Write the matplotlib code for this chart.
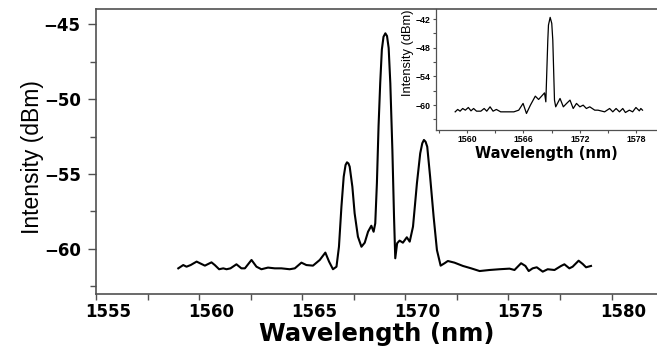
import matplotlib
matplotlib.use("Agg")
import matplotlib.pyplot as plt
import matplotlib.transforms as mtransforms
from matplotlib.ticker import MultipleLocator

# main spectrum
wl_main = [1558.99, 1559.23, 1559.39, 1559.59, 1559.88, 1560.04, 1560.28, 1560.60, 1560.76, 1560.97,
           1561.17, 1561.33, 1561.52, 1561.81, 1562.05, 1562.22, 1562.54, 1562.78, 1563.02, 1563.34,
           1563.67, 1563.99, 1564.39, 1564.64, 1564.96, 1565.20, 1565.52, 1565.85, 1566.12, 1566.30,
           1566.49, 1566.66, 1566.78, 1566.90, 1567.01, 1567.10, 1567.17, 1567.24, 1567.30, 1567.43,
           1567.54, 1567.70, 1567.87, 1568.03, 1568.19, 1568.35, 1568.46, 1568.54, 1568.62, 1568.70,
           1568.78, 1568.86, 1568.94, 1569.03, 1569.11, 1569.19, 1569.27, 1569.37, 1569.45, 1569.51,
           1569.60, 1569.72, 1569.88, 1570.07, 1570.21, 1570.37, 1570.47, 1570.56, 1570.72, 1570.82,
           1570.90, 1570.98, 1571.06, 1571.20, 1571.37, 1571.53, 1571.71, 1571.90, 1572.06, 1572.38,
           1572.79, 1573.19, 1573.60, 1574.08, 1574.56, 1575.05, 1575.29, 1575.61, 1575.82, 1575.98,
           1576.17, 1576.37, 1576.66, 1576.90, 1577.23, 1577.55, 1577.71, 1577.95, 1578.11, 1578.40,
           1578.60, 1578.76, 1579.00]
db_main = [-61.29, -61.07, -61.18, -61.07, -60.84, -60.95, -61.11, -60.89, -61.07, -61.35,
           -61.29, -61.35, -61.29, -61.02, -61.29, -61.29, -60.73, -61.18, -61.35, -61.24,
           -61.29, -61.29, -61.35, -61.29, -60.91, -61.07, -61.11, -60.73, -60.24, -60.84,
           -61.35, -61.18, -59.85, -57.18, -55.18, -54.40, -54.22, -54.30, -54.51, -55.85,
           -57.62, -59.18, -59.85, -59.58, -58.85, -58.45, -58.85, -58.29, -55.60, -51.80,
           -48.95, -46.70, -45.85, -45.62, -45.80, -46.60, -48.95, -53.40, -57.85, -60.62,
           -59.62, -59.44, -59.58, -59.22, -59.51, -58.51, -57.00, -55.62, -53.62, -52.95,
           -52.73, -52.85, -53.18, -55.18, -57.85, -60.07, -61.11, -60.95, -60.80, -60.91,
           -61.13, -61.29, -61.47, -61.40, -61.35, -61.31, -61.40, -60.95, -61.13, -61.47,
           -61.29, -61.22, -61.51, -61.35, -61.40, -61.13, -61.02, -61.29, -61.18, -60.78,
           -61.00, -61.22, -61.13]

# inset spectrum
wl_ins = [1558.74, 1559.01, 1559.26, 1559.54, 1559.82, 1560.14, 1560.42, 1560.70, 1561.01, 1561.47,
          1561.82, 1562.10, 1562.45, 1562.77, 1563.12, 1563.58, 1564.27, 1564.98, 1565.50, 1565.96,
          1566.32, 1566.74, 1567.26, 1567.61, 1568.03, 1568.24, 1568.38, 1568.59, 1568.66, 1568.84,
          1569.01, 1569.12, 1569.22, 1569.30, 1569.43, 1569.89, 1570.24, 1570.59, 1570.95, 1571.29,
          1571.64, 1572.00, 1572.35, 1572.69, 1573.05, 1573.58, 1573.93, 1574.63, 1575.16, 1575.50,
          1575.85, 1576.21, 1576.56, 1576.84, 1577.26, 1577.61, 1577.96, 1578.32, 1578.48, 1578.66]
db_ins = [-61.40, -60.90, -61.26, -60.70, -61.05, -60.49, -61.19, -60.70, -61.26, -61.26,
          -60.70, -61.26, -60.35, -61.26, -60.90, -61.40, -61.40, -61.40, -61.05, -59.64,
          -61.74, -60.00, -58.12, -58.81, -57.90, -57.43, -59.31, -46.40, -43.26, -41.65,
          -42.90, -46.40, -53.37, -58.95, -60.35, -58.60, -60.35, -59.64, -58.95, -60.70,
          -59.64, -60.35, -60.00, -60.70, -60.35, -61.05, -61.05, -61.40, -60.70, -61.40,
          -60.70, -61.40, -60.70, -61.54, -61.05, -61.40, -60.49, -61.19, -60.70, -61.05]

main_xticks = [1555, 1560, 1565, 1570, 1575, 1580]
main_yticks = [-45, -50, -55, -60]
ins_xticks = [1560, 1566, 1572, 1578]
ins_yticks = [-42, -48, -54, -60]

spine_col = "#505050"

fig = plt.figure(figsize=(6.57, 3.48), dpi=100)
ax = fig.add_axes([0.1461, 0.1552, 0.8539, 0.8189])
ax.plot(wl_main, db_main, color="black", lw=1.5)
ax.set_xlim(1555, 1582.2)
ax.set_ylim(-63, -44)
ax.set_xticks(main_xticks)
ax.set_yticks(main_yticks)
ax.xaxis.set_minor_locator(MultipleLocator(2.5))
ax.yaxis.set_minor_locator(MultipleLocator(2.5))
ax.spines["right"].set_visible(False)
for s in ["left", "bottom", "top"]:
    ax.spines[s].set_color(spine_col)
    ax.spines[s].set_linewidth(1.2)
ax.tick_params(which="both", direction="out", color=spine_col, width=1.0, top=False, right=False)
ax.tick_params(axis="y", which="major", length=6, pad=5)
ax.tick_params(axis="y", which="minor", length=4)
ax.tick_params(axis="x", which="both", length=4, pad=2.5)
for lab in ax.get_xticklabels() + ax.get_yticklabels():
    lab.set_fontfamily("DejaVu Sans")
    lab.set_fontweight("bold")
    lab.set_fontsize(12)
# x labels sit a bit right of their ticks in the original
shift = mtransforms.ScaledTranslation(0.12, 0, fig.dpi_scale_trans)
for lab in ax.get_xticklabels():
    lab.set_transform(lab.get_transform() + shift)

ax.set_xlabel("Wavelength (nm)", fontfamily="DejaVu Sans", fontweight="bold", fontsize=17.5)
ax.xaxis.set_label_coords(0.5, -0.1)
ax.set_ylabel("Intensity (dBm)", fontfamily="Liberation Sans", fontsize=16.5)
ax.yaxis.set_label_coords(-0.093, 0.48)

# inset
axi = fig.add_axes([0.6636, 0.6264, 0.3364, 0.3477])
axi.set_facecolor("none")
axi.plot(wl_ins, db_ins, color="black", lw=0.9)
axi.set_xlim(1556.7, 1580.2)
axi.set_ylim(-65.2, -39.9)
axi.set_xticks(ins_xticks)
axi.set_yticks(ins_yticks)
axi.xaxis.set_minor_locator(MultipleLocator(3))
axi.yaxis.set_minor_locator(MultipleLocator(3))
axi.spines["right"].set_visible(False)
axi.spines["top"].set_visible(False)
for s in ["left", "bottom"]:
    axi.spines[s].set_color(spine_col)
    axi.spines[s].set_linewidth(0.9)
axi.tick_params(which="both", direction="out", color=spine_col, width=0.8, length=2.5, pad=1.2)
for lab in axi.get_xticklabels() + axi.get_yticklabels():
    lab.set_fontfamily("Liberation Sans")
    lab.set_fontweight("bold")
    lab.set_fontsize(6.3)
axi.set_xlabel("Wavelength (nm)", fontfamily="DejaVu Sans", fontweight="bold", fontsize=10.5, labelpad=1)
axi.set_ylabel("Intensity (dBm)", fontfamily="Liberation Sans", fontsize=9.3)
axi.yaxis.set_label_coords(-0.1, 0.64)

fig.savefig("out.png", dpi=100)
